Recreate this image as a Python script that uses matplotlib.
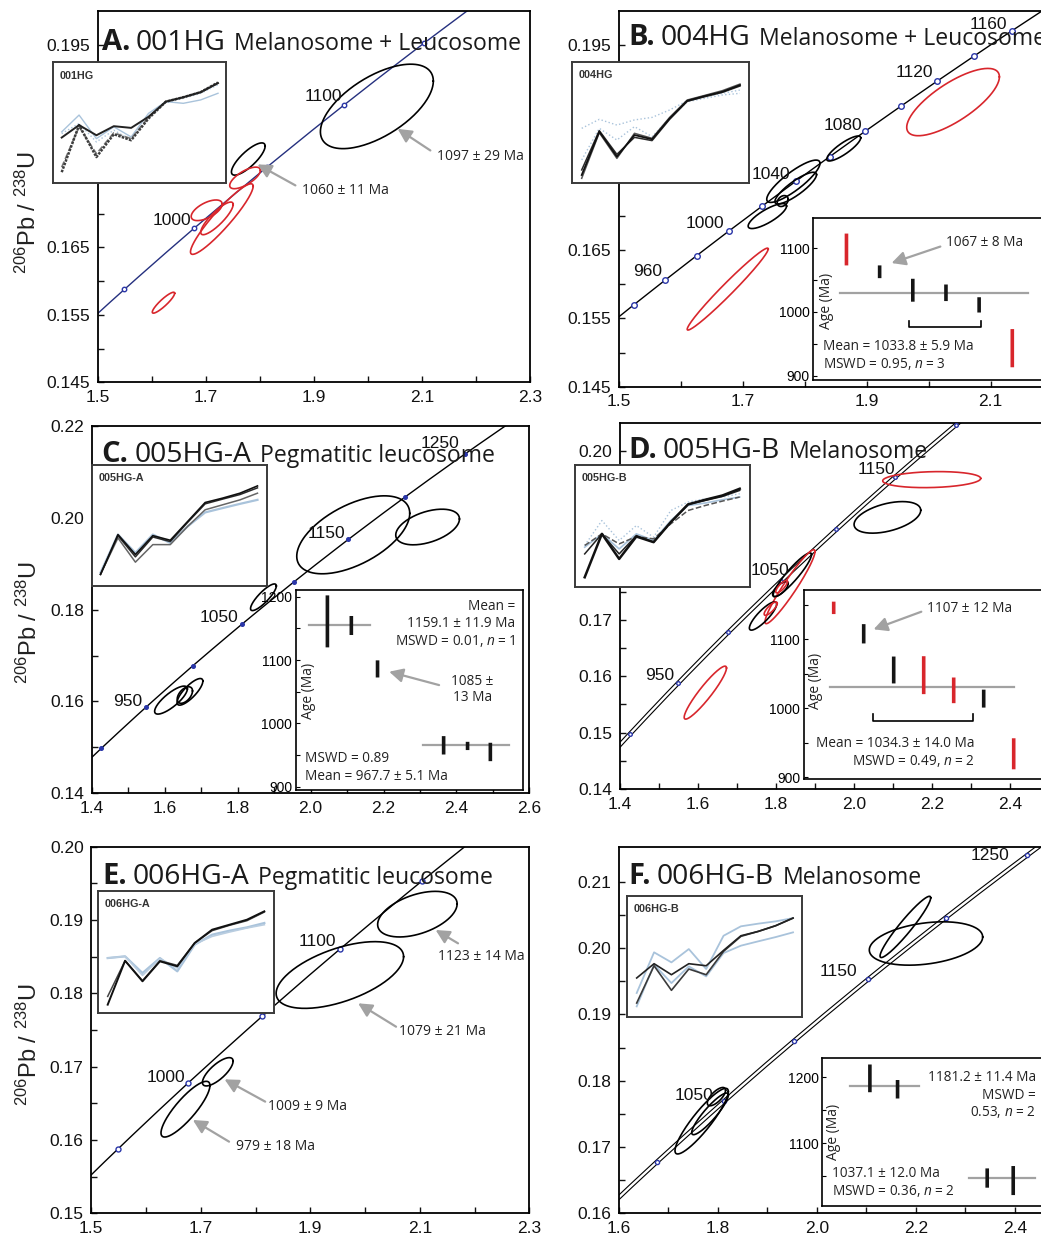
import numpy as np
import matplotlib
matplotlib.use("Agg")
import matplotlib.pyplot as plt
from matplotlib.transforms import IdentityTransform

plt.rcParams["font.family"] = ["Liberation Sans", "DejaVu Sans"]
plt.rcParams["mathtext.fontset"] = "custom"
plt.rcParams["mathtext.rm"] = "Liberation Sans"
plt.rcParams["mathtext.it"] = "Open Sans:italic"

W, H = 1041, 1240
SANS = ["Open Sans", "DejaVu Sans"]
RED = "#d8262c"
BLUE = "#2a36a8"
GREY = "#a2a2a2"
LBLUE = "#a9c3db"

# ---------------- data ----------------
# concordia points (207Pb/235U, 206Pb/238U) at ages in Ma
conc_age = [850, 880, 900, 920, 940, 950, 960, 980, 1000, 1020, 1040, 1050, 1060, 1080, 1100,
            1120, 1140, 1150, 1160, 1180, 1200, 1220, 1240, 1250, 1260, 1280, 1300]
conc_x = [1.3097, 1.3790, 1.4263, 1.4746, 1.5238, 1.5488, 1.5740, 1.6252, 1.6774, 1.7307, 1.7850,
          1.8126, 1.8404, 1.8969, 1.9545, 2.0133, 2.0732, 2.1036, 2.1344, 2.1967, 2.2603, 2.3252,
          2.3913, 2.4249, 2.4588, 2.5276, 2.5977]
conc_y = [0.14094, 0.14627, 0.14983, 0.15340, 0.15699, 0.15878, 0.16058, 0.16419, 0.16781, 0.17143,
          0.17507, 0.17690, 0.17872, 0.18239, 0.18606, 0.18975, 0.19344, 0.19530, 0.19715, 0.20087,
          0.20460, 0.20835, 0.21210, 0.21398, 0.21587, 0.21965, 0.22343]

# ellipses: (centre 207/235, centre 206/238, sigma x, sigma y, rho)
a_ell = [(2.016, 0.1859, 0.1045, 0.00626, 0.6), (1.778, 0.1781, 0.0312, 0.00239, 0.8),
         (1.772, 0.1753, 0.0284, 0.0016, 0.7), (1.729, 0.1692, 0.058, 0.00523, 0.93),
         (1.720, 0.1693, 0.030, 0.00242, 0.85), (1.701, 0.1705, 0.0287, 0.00153, 0.6),
         (1.621, 0.1568, 0.0207, 0.00155, 0.9)]
a_grp = ["in", "in", "out", "out", "out", "out", "out"]
b_ell = [(2.0393, 0.1867, 0.0748, 0.00493, 0.75), (1.6755, 0.1593, 0.0654, 0.0060, 0.98),
         (1.8628, 0.1799, 0.0274, 0.00183, 0.85), (1.7815, 0.1751, 0.0430, 0.0031, 0.85),
         (1.7853, 0.1741, 0.0336, 0.00232, 0.85), (1.7395, 0.1700, 0.0310, 0.00183, 0.8),
         (1.7643, 0.1722, 0.0089, 0.0008, 0.3)]
b_grp = ["out", "out", "in", "in", "in", "in", "in"]
c_ell = [(2.117, 0.1963, 0.155, 0.00849, 0.55), (2.321, 0.1980, 0.0874, 0.00388, 0.45),
         (1.8706, 0.1827, 0.0354, 0.0029, 0.85), (1.617, 0.1603, 0.0449, 0.00305, 0.8),
         (1.669, 0.1621, 0.0354, 0.0029, 0.8), (1.655, 0.1614, 0.021, 0.0018, 0.5)]
c_grp = ["in"] * 6
d_ell = [(2.1985, 0.1949, 0.1255, 0.00142, 0.15), (2.085, 0.1882, 0.0854, 0.0028, 0.45),
         (1.6186, 0.1571, 0.0542, 0.0047, 0.93), (1.8415, 0.1780, 0.0491, 0.0039, 0.92),
         (1.8355, 0.1759, 0.064, 0.00656, 0.95), (1.8108, 0.1755, 0.020, 0.00133, 0.7),
         (1.7664, 0.1707, 0.035, 0.00251, 0.85), (1.786, 0.1720, 0.0167, 0.00118, 0.8),
         (1.814, 0.1759, 0.015, 0.0011, 0.8)]
d_grp = ["out", "in", "out", "in", "out", "in", "in", "out", "out"]
e_ell = [(2.0956, 0.1908, 0.0726, 0.00311, 0.45), (1.954, 0.1825, 0.1164, 0.00455, 0.55),
         (1.731, 0.1693, 0.028, 0.00193, 0.75), (1.672, 0.1642, 0.0447, 0.0038, 0.85)]
e_grp = ["in"] * 4
f_ell = [(2.2206, 0.2007, 0.1146, 0.00327, 0.3), (2.1789, 0.2032, 0.0512, 0.00462, 0.95),
         (1.7671, 0.1739, 0.0539, 0.00495, 0.9), (1.784, 0.1750, 0.037, 0.00314, 0.9),
         (1.797, 0.1776, 0.0185, 0.00138, 0.7)]
f_grp = ["in"] * 5

# REE inset patterns (relative height in the inset, 10 elements)
ree_x = list(range(10))
a_ree = [[0.425, 0.564, 0.369, 0.467, 0.383, 0.578, 0.675, 0.661, 0.689, 0.744],
         [0.411, 0.494, 0.342, 0.439, 0.356, 0.550, 0.667, 0.703, 0.744, 0.814],
         [0.133, 0.467, 0.244, 0.417, 0.369, 0.544, 0.675, 0.711, 0.753, 0.830],
         [0.092, 0.481, 0.217, 0.406, 0.356, 0.536, 0.675, 0.711, 0.753, 0.833],
         [0.378, 0.481, 0.397, 0.472, 0.458, 0.550, 0.675, 0.711, 0.753, 0.828]]
b_ree = [[0.452, 0.526, 0.479, 0.521, 0.542, 0.603, 0.679, 0.712, 0.740, 0.767],
         [0.192, 0.452, 0.356, 0.466, 0.384, 0.534, 0.671, 0.699, 0.726, 0.740],
         [0.041, 0.416, 0.205, 0.411, 0.370, 0.542, 0.685, 0.723, 0.762, 0.816],
         [0.110, 0.433, 0.238, 0.378, 0.351, 0.526, 0.674, 0.712, 0.748, 0.800],
         [0.068, 0.425, 0.219, 0.397, 0.362, 0.534, 0.679, 0.718, 0.753, 0.808]]
c_ree = [[0.110, 0.425, 0.274, 0.425, 0.356, 0.493, 0.608, 0.644, 0.679, 0.712],
         [0.096, 0.397, 0.197, 0.342, 0.342, 0.493, 0.630, 0.671, 0.712, 0.767],
         [0.096, 0.416, 0.241, 0.405, 0.367, 0.526, 0.679, 0.718, 0.756, 0.811],
         [0.096, 0.425, 0.260, 0.416, 0.378, 0.534, 0.690, 0.726, 0.767, 0.827]]
d_ree = [[0.342, 0.546, 0.383, 0.505, 0.410, 0.628, 0.697, 0.724, 0.738, 0.765],
         [0.328, 0.437, 0.314, 0.437, 0.383, 0.546, 0.669, 0.689, 0.716, 0.738],
         [0.342, 0.437, 0.355, 0.415, 0.396, 0.519, 0.628, 0.669, 0.705, 0.738],
         [0.273, 0.437, 0.273, 0.423, 0.369, 0.533, 0.678, 0.710, 0.743, 0.792],
         [0.082, 0.437, 0.232, 0.415, 0.369, 0.533, 0.678, 0.716, 0.751, 0.806]]
e_ree = [[0.449, 0.463, 0.326, 0.449, 0.340, 0.559, 0.641, 0.674, 0.701, 0.737],
         [0.449, 0.463, 0.307, 0.444, 0.367, 0.564, 0.627, 0.663, 0.696, 0.723],
         [0.134, 0.427, 0.263, 0.427, 0.389, 0.573, 0.674, 0.718, 0.756, 0.827],
         [0.066, 0.427, 0.258, 0.422, 0.381, 0.573, 0.682, 0.723, 0.764, 0.833]]
f_ree = [[0.196, 0.532, 0.449, 0.559, 0.394, 0.669, 0.747, 0.769, 0.788, 0.815],
         [0.085, 0.430, 0.278, 0.416, 0.333, 0.526, 0.587, 0.623, 0.658, 0.697],
         [0.113, 0.421, 0.218, 0.394, 0.347, 0.540, 0.664, 0.705, 0.752, 0.815],
         [0.320, 0.438, 0.347, 0.438, 0.421, 0.548, 0.669, 0.705, 0.752, 0.815]]

# weighted-mean insets: analysis position, age (Ma), error (Ma), group
b_wm_x = [1, 2, 3, 4, 5, 6]
b_wm_age = [1098, 1063, 1034, 1030, 1011, 943]
b_wm_err = [25, 10, 18, 13, 12, 30]
b_wm_grp = ["out", "in", "in", "in", "in", "out"]
c_wm_x = [1.4, 2.45, 3.6, 6.5, 7.55, 8.55]
c_wm_age = [1161, 1154.5, 1086, 965.5, 964.5, 955]
c_wm_err = [41, 15, 13.5, 14.5, 6.5, 14.5]
c_wm_grp = ["in"] * 6
d_wm_x = [1, 2, 3, 4, 5, 6, 7]
d_wm_age = [1145.6, 1108, 1055.5, 1048, 1026, 1014, 934]
d_wm_err = [9, 14, 19.5, 27.5, 18.6, 13, 22.5]
d_wm_grp = ["out", "in", "in", "out", "out", "in", "out"]
f_wm_x = [1.72, 2.72, 5.96, 6.9]
f_wm_age = [1198.5, 1182, 1047.5, 1043.7]
f_wm_err = [21, 14, 14.6, 22]
f_wm_grp = ["in"] * 4

# ---------------- helpers ----------------
fig = plt.figure(figsize=(W / 100, H / 100), dpi=100)
fig.patch.set_facecolor("white")
renderer = fig.canvas.get_renderer()


def ax_px(l, t, r, b):
    return fig.add_axes([l / W, 1 - b / H, (r - l) / W, (b - t) / H])


def main_axes(box, xlim, ylim, xt, xminor, yt, ylab, yminor):
    ax = ax_px(*box)
    ax.set_xlim(xlim)
    ax.set_ylim(ylim)
    ax.set_xticks(xt)
    ax.set_xticklabels([f"{v:.1f}" for v in xt])
    ax.set_xticks(xminor, minor=True)
    ax.set_yticks(yt)
    ax.set_yticklabels(ylab)
    ax.set_yticks(yminor, minor=True)
    ax.tick_params(which="both", direction="in", length=4.5, width=1.0, labelsize=12.5,
                   pad=5.5, colors="#111")
    for s in ax.spines.values():
        s.set_linewidth(1.3)
    return ax


def concordia(ax, marked, color="black", double=False, filled=False, ms=3.5):
    if double:
        ax.plot(conc_x, conc_y, color="black", lw=3.3, zorder=2)
        ax.plot(conc_x, conc_y, color="white", lw=1.7, zorder=2.1)
    else:
        ax.plot(conc_x, conc_y, color=color, lw=1.0, zorder=2)
    idx = [conc_age.index(a) for a in marked]
    ax.plot([conc_x[i] for i in idx], [conc_y[i] for i in idx], "o", ms=ms, mew=1.0,
            mec=BLUE, mfc=BLUE if filled else "white", zorder=3)


def ellipses(ax, ells, grps):
    t = np.linspace(0, 2 * np.pi, 200)
    for (cx, cy, sx, sy, rho), g in zip(ells, grps):
        x = cx + sx * np.cos(t)
        y = cy + sy * (rho * np.cos(t) + np.sqrt(1 - rho ** 2) * np.sin(t))
        ax.plot(x, y, color=RED if g == "out" else "black", lw=1.2, zorder=4)


def age_labels(ax, items):
    for s, x, y in items:
        ax.text(x, y, s, ha="right", va="center", fontsize=12.5, color="#111", zorder=6)


def arrow(ax, tail, head):
    ax.annotate("", xy=head, xytext=tail,
                arrowprops=dict(arrowstyle="-|>,head_length=0.55,head_width=0.28", color=GREY,
                                lw=1.6, mutation_scale=15, shrinkA=0, shrinkB=0), zorder=6)


def note(ax, x, y, s, ha="left", size=10):
    ax.text(x, y, s, ha=ha, va="center", fontsize=size, family=SANS, color="#222", zorder=6)


def ree_inset(box, xlim, label, series, styles):
    ax = ax_px(*box)
    ax.set_xlim(xlim)
    ax.set_ylim(0, 1)
    ax.set_xticks([])
    ax.set_yticks([])
    for s in ax.spines.values():
        s.set_linewidth(1.4)
        s.set_color("#3a3a3a")
    for vals, (c, lw, ls) in zip(series, styles):
        ax.plot(ree_x, vals, color=c, lw=lw, ls=ls)
    ax.annotate(label, xy=(0, 1), xycoords="axes fraction", xytext=(5, -6),
                textcoords="offset points", va="top", ha="left", fontsize=7.8,
                fontweight="bold", color="#333")
    return ax


def wm_inset(box, xlim, ylim, yt, yminor, xs, ages, errs, grps, means):
    ax = ax_px(*box)
    ax.set_xlim(xlim)
    ax.set_ylim(ylim)
    ax.set_xticks([])
    ax.set_yticks(yt)
    ax.set_yticklabels([str(v) for v in yt])
    ax.set_yticks(yminor, minor=True)
    ax.tick_params(axis="y", which="both", direction="in", length=3, width=0.8,
                   labelsize=10, pad=2.5)
    for s in ax.spines.values():
        s.set_linewidth(1.2)
    ax.spines["left"].set_linestyle((0, (1.6, 1.0)))
    for m, x0, x1 in means:
        ax.plot([x0, x1], [m, m], color=GREY, lw=1.6, zorder=1)
    for x, a, e, g in zip(xs, ages, errs, grps):
        c = RED if g == "out" else "#151515"
        ax.plot([x, x], [a - e, a + e], color=c, lw=2.6, solid_capstyle="butt",
                snap=False, zorder=3)
    return ax


def rich_title(x_px, base_px, parts):
    x = x_px
    for s, size, weight, gap in parts:
        t = fig.text(x, H - base_px, s, transform=IdentityTransform(), fontsize=size,
                     fontweight=weight, family=SANS, ha="left", va="baseline", color="#1a1a1a",
                     zorder=5)
        x = t.get_window_extent(renderer).x1 + gap


def ylabel(xc, yc):
    fig.text(xc, H - yc, r"$^{206}$Pb / $^{238}$U", transform=IdentityTransform(),
             rotation=90, ha="center", va="center", fontsize=17, color="#222")


def mslab(ax, x, y, s, n, ha):
    note(ax, x, y, s + r"$n$ = " + n, ha=ha, size=9.8)


def bracket(ax, x0, x1, top, bot):
    ax.plot([x0, x0, x1, x1], [top, bot, bot, top], color="black", lw=1.2)


# ---------------- panel A ----------------
ax = main_axes((98.1, 11.3, 530.3, 382.3), (1.5, 2.3), (0.145, 0.2),
               [1.5, 1.7, 1.9, 2.1, 2.3], [1.6, 1.8, 2.0, 2.2],
               [0.145, 0.155, 0.165, 0.175, 0.185, 0.195],
               ["0.145", "0.155", "0.165", "", "", "0.195"],
               [0.15, 0.16, 0.17, 0.18, 0.19])
concordia(ax, [950, 1000, 1050, 1100, 1150], color="#25307f", ms=3.2)
ellipses(ax, a_ell, a_grp)
age_labels(ax, [("1000", 1.673, 0.1690), ("1100", 1.9526, 0.1874)])
arrow(ax, (2.115, 0.17937), (2.0545, 0.18257))
note(ax, 2.127, 0.17848, "1097 ± 29 Ma")
arrow(ax, (1.8652, 0.17419), (1.7951, 0.1773))
note(ax, 1.8773, 0.17345, "1060 ± 11 Ma")
ree_inset((52.7, 62.3, 226.2, 183.3), (-0.518, 9.472), "001HG", a_ree,
          [(LBLUE, 1.0, "-"), (LBLUE, 1.0, ":"), ("#777777", 1.2, "--"),
           ("#3d3d3d", 1.8, (0, (1, 0.5))), ("#222222", 1.4, "-")])

# ---------------- panel B ----------------
ax = main_axes((619, 11.3, 1052.6, 386.7), (1.5, 2.2), (0.145, 0.2),
               [1.5, 1.7, 1.9, 2.1], [1.6, 1.8, 2.0, 2.2],
               [0.145, 0.155, 0.165, 0.175, 0.185, 0.195],
               ["0.145", "0.155", "0.165", "", "", "0.195"],
               [0.15, 0.16, 0.17, 0.18, 0.19])
concordia(ax, [940, 960, 980, 1000, 1020, 1040, 1060, 1080, 1100, 1120, 1140, 1160], ms=4)
ellipses(ax, b_ell, b_grp)
age_labels(ax, [("960", 1.5689, 0.1619), ("1000", 1.6695, 0.1689), ("1040", 1.776, 0.1761),
                ("1080", 1.8929, 0.1833), ("1120", 2.0065, 0.1910), ("1160", 2.127, 0.1980)])
ree_inset((571.7, 61.7, 749.3, 183.3), (-0.569, 9.529), "004HG", b_ree,
          [(LBLUE, 1.0, ":"), (LBLUE, 1.0, ":"), ("#555555", 1.1, "-"),
           ("#2a2a2a", 1.1, "-"), ("#111111", 1.3, "-")])
w = wm_inset((813.3, 218.3, 1052.1, 380), (0, 7.2), (893, 1147), [900, 1000, 1100],
             [950, 1050], b_wm_x, b_wm_age, b_wm_err, b_wm_grp, [(1030, 0.82, 6.48)])
bracket(w, 2.89, 5.05, 986, 976)
arrow(w, (3.83, 1102.6), (2.36, 1076.7))
note(w, 4.0, 1109, "1067 ± 8 Ma", size=9.8)
note(w, 0.30, 945.6, "Mean = 1033.8 ± 5.9 Ma", size=9.8)
mslab(w, 0.30, 917.7, "MSWD = 0.95, ", "3", "left")
w.text(0.40, 1017, "Age (Ma)", rotation=90, ha="center", va="center", fontsize=10,
       family=SANS, color="#222")

# ---------------- panel C ----------------
ax = main_axes((91.9, 426, 529.3, 793.3), (1.4, 2.6), (0.14, 0.22),
               [1.4, 1.6, 1.8, 2.0, 2.2, 2.4, 2.6], [1.5, 1.7, 1.9, 2.1, 2.3, 2.5],
               [0.14, 0.16, 0.18, 0.20, 0.22], ["0.14", "0.16", "0.18", "0.20", "0.22"],
               [0.15, 0.17, 0.19, 0.21])
concordia(ax, [900, 950, 1000, 1050, 1100, 1150, 1200, 1250], filled=True, ms=2.6)
ellipses(ax, c_ell, c_grp)
age_labels(ax, [("950", 1.538, 0.1600), ("1050", 1.8016, 0.1783), ("1150", 2.0955, 0.1966),
                ("1250", 2.409, 0.2162)])
ree_inset((91.5, 465, 267, 586), (-0.517, 9.546), "005HG-A", c_ree,
          [(LBLUE, 1.6, "-"), ("#666666", 1.1, "-"), ("#2a2a2a", 1.1, "-"),
           ("#111111", 1.2, "-")])
w = wm_inset((295.5, 590, 523.4, 790), (0, 10), (895, 1210.5), [900, 1000, 1100, 1200],
             [950, 1050, 1150], c_wm_x, c_wm_age, c_wm_err, c_wm_grp,
             [(1155, 0.59, 3.28), (966, 5.59, 9.37)])
arrow(w, (6.3, 1060.5), (4.11, 1081.6))
note(w, 7.76, 1066, "1085 ±", ha="center", size=9.8)
note(w, 7.76, 1041, "13 Ma", ha="center", size=9.8)
note(w, 9.65, 1184, "Mean =", ha="right", size=9.8)
note(w, 9.65, 1158, "1159.1 ± 11.9 Ma", ha="right", size=9.8)
mslab(w, 9.65, 1130.5, "MSWD = 0.01, ", "1", "right")
note(w, 0.41, 945, "MSWD = 0.89", size=9.8)
note(w, 0.41, 917, "Mean = 967.7 ± 5.1 Ma", size=9.8)
w.text(0.59, 1051.6, "Age (Ma)", rotation=90, ha="center", va="center", fontsize=10,
       family=SANS, color="#222")

# ---------------- panel D ----------------
ax = main_axes((620, 422.7, 1049.4, 789), (1.4, 2.5), (0.14, 0.205),
               [1.4, 1.6, 1.8, 2.0, 2.2, 2.4], [1.5, 1.7, 1.9, 2.1, 2.3],
               [0.14, 0.15, 0.16, 0.17, 0.18, 0.19, 0.20],
               ["0.14", "0.15", "0.16", "0.17", "", "", "0.20"],
               [0.145, 0.155, 0.165, 0.175, 0.185, 0.195])
concordia(ax, [900, 950, 1000, 1050, 1100, 1150, 1200], double=True, ms=2.6)
ellipses(ax, d_ell, d_grp)
age_labels(ax, [("950", 1.539, 0.1601), ("1050", 1.8338, 0.1788), ("1150", 2.1045, 0.1967)])
ree_inset((575, 465, 750, 587.3), (-0.563, 9.598), "005HG-B", d_ree,
          [(LBLUE, 1.0, ":"), (LBLUE, 1.2, "-"), ("#555555", 1.1, "--"),
           ("#222222", 1.1, "-"), ("#111111", 1.8, "-")])
w = wm_inset((803.7, 590, 1052.7, 779.3), (0, 8.3), (897, 1171.5), [900, 1000, 1100],
             [950, 1050, 1150], d_wm_x, d_wm_age, d_wm_err, d_wm_grp, [(1031.4, 0.89, 7.02)])
bracket(w, 2.31, 5.64, 991.8, 982.1)
arrow(w, (3.92, 1140), (2.33, 1114.5))
note(w, 4.1, 1145, "1107 ± 12 Ma", size=9.8)
note(w, 5.69, 949, "Mean = 1034.3 ± 14.0 Ma", ha="right", size=9.8)
mslab(w, 5.69, 924, "MSWD = 0.49, ", "2", "right")
w.text(0.38, 1040, "Age (Ma)", rotation=90, ha="center", va="center", fontsize=10,
       family=SANS, color="#222")

# ---------------- panel E ----------------
ax = main_axes((91.3, 846.7, 529.3, 1213.3), (1.5, 2.3), (0.15, 0.20),
               [1.5, 1.7, 1.9, 2.1, 2.3], [1.6, 1.8, 2.0, 2.2],
               [0.15, 0.16, 0.17, 0.18, 0.19, 0.20],
               ["0.15", "0.16", "0.17", "0.18", "0.19", "0.20"],
               [0.155, 0.165, 0.175, 0.185, 0.195])
concordia(ax, [950, 1000, 1050, 1100, 1150], ms=3.6)
ellipses(ax, e_ell, e_grp)
age_labels(ax, [("1000", 1.671, 0.1685), ("1100", 1.948, 0.1871)])
arrow(ax, (2.1698, 0.18682), (2.1289, 0.18864))
note(ax, 2.134, 0.1850, "1123 ± 14 Ma")
arrow(ax, (2.0566, 0.17545), (1.9874, 0.17864))
note(ax, 2.0629, 0.17486, "1079 ± 21 Ma")
arrow(ax, (1.8176, 0.16523), (1.7434, 0.16827))
note(ax, 1.8226, 0.16455, "1009 ± 9 Ma")
arrow(ax, (1.7516, 0.15977), (1.6855, 0.16273))
note(ax, 1.7642, 0.15909, "979 ± 18 Ma")
ree_inset((98, 891, 274.4, 1012.7), (-0.557, 9.58), "006HG-A", e_ree,
          [(LBLUE, 1.6, "-"), ("#b9cde0", 1.2, "-"), ("#444444", 1.1, "-"),
           ("#111111", 1.4, "-")])

# ---------------- panel F ----------------
ax = main_axes((619, 846.7, 1064.2, 1213.3), (1.6, 2.5), (0.16, 0.2153),
               [1.6, 1.8, 2.0, 2.2, 2.4], [1.7, 1.9, 2.1, 2.3],
               [0.16, 0.17, 0.18, 0.19, 0.20, 0.21],
               ["0.16", "0.17", "0.18", "0.19", "0.20", "0.21"],
               [0.165, 0.175, 0.185, 0.195, 0.205])
concordia(ax, [1000, 1050, 1100, 1150, 1200, 1250], double=True, ms=3)
ellipses(ax, f_ell, f_grp)
age_labels(ax, [("1050", 1.7907, 0.1778), ("1150", 2.0818, 0.1964), ("1250", 2.39, 0.2140)])
ree_inset((626.7, 895.7, 801.7, 1016.7), (-0.576, 9.5), "006HG-B", f_ree,
          [(LBLUE, 1.3, "-"), (LBLUE, 1.3, "-"), ("#3a3a3a", 1.2, "-"),
           ("#222222", 1.2, "-")])
w = wm_inset((822.3, 1057.7, 1059.7, 1205.7), (0, 8.58), (1005.6, 1229.8), [1100, 1200],
             [1050, 1150], f_wm_x, f_wm_age, f_wm_err, f_wm_grp,
             [(1187, 1.0, 3.5), (1047, 5.31, 7.69)])
note(w, 7.72, 1200, "1181.2 ± 11.4 Ma", ha="right", size=9.8)
note(w, 7.72, 1173, "MSWD =", ha="right", size=9.8)
mslab(w, 7.72, 1147, "0.53, ", "2", "right")
note(w, 0.34, 1054.6, "1037.1 ± 12.0 Ma", size=9.8)
mslab(w, 0.34, 1027.8, "MSWD = 0.36, ", "2", "left")
w.text(0.40, 1117.7, "Age (Ma)", rotation=90, ha="center", va="center", fontsize=10,
       family=SANS, color="#222")

# ---------------- titles and axis labels ----------------
rich_title(101.6, 50, [("A.", 21, "bold", 6), ("001HG", 20.3, "normal", 8.5),
                       ("Melanosome + Leucosome", 16.6, "normal", 0)])
rich_title(628.3, 45, [("B.", 21, "bold", 6), ("004HG", 20.3, "normal", 8.5),
                       ("Melanosome + Leucosome", 16.6, "normal", 0)])
rich_title(101.6, 461.7, [("C.", 21, "bold", 6), ("005HG-A", 20.3, "normal", 8.5),
                          ("Pegmatitic leucosome", 16.6, "normal", 0)])
rich_title(628.3, 458.3, [("D.", 21, "bold", 6), ("005HG-B", 20.3, "normal", 8.5),
                          ("Melanosome", 16.6, "normal", 0)])
rich_title(102.3, 884, [("E.", 21, "bold", 6), ("006HG-A", 20.3, "normal", 8.5),
                        ("Pegmatitic leucosome", 16.6, "normal", 0)])
rich_title(628.3, 884, [("F.", 21, "bold", 6), ("006HG-B", 20.3, "normal", 8.5),
                        ("Melanosome", 16.6, "normal", 0)])
ylabel(28, 212.5)
ylabel(29, 622.5)
ylabel(29, 1045)

fig.savefig("out.png", dpi=100)
